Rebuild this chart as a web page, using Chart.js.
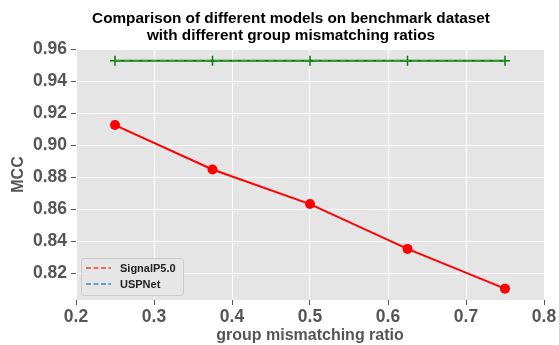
<!DOCTYPE html>
<html><head><meta charset="utf-8">
<script src="https://cdn.jsdelivr.net/npm/chart.js@4.4.1/dist/chart.umd.min.js"></script>
<style>html,body{margin:0;padding:0;background:#fff}#wrap{width:559px;height:345px}</style>
</head><body><div id="wrap"><canvas id="c" width="559" height="345"></canvas></div>
<script>
const ratios = [0.25, 0.375, 0.5, 0.625, 0.75];
const signalpMCC = [0.9125, 0.8848, 0.8632, 0.8352, 0.8104];
const uspnetMCC = [0.9527, 0.9527, 0.9527, 0.9527, 0.9527];
const seriesNames = ['SignalP5.0', 'USPNet'];
const legendColors = ['#E24A33', '#348ABD'];
const titleLines = ['Comparison of different models on benchmark dataset', 'with different group mismatching ratios'];
const xTitle = 'group mismatching ratio';
const yTitle = 'MCC';
const yTickValues = [0.82, 0.84, 0.86, 0.88, 0.90, 0.92, 0.94, 0.96];

const pts = arr => ratios.map((r, i) => ({x: r, y: arr[i]}));

const bgPlugin = {
  id: 'bg',
  beforeDraw(chart) {
    const {ctx, chartArea: a} = chart;
    ctx.save();
    ctx.fillStyle = '#E5E5E5';
    ctx.fillRect(a.left, a.top, a.right - a.left, a.bottom - a.top);
    ctx.restore();
  }
};

const titlePlugin = {
  id: 'offsetTitle',
  afterDraw(chart) {
    const {ctx} = chart;
    ctx.save();
    ctx.font = 'bold 15.3px "Liberation Sans"';
    ctx.fillStyle = '#000';
    ctx.textAlign = 'center';
    ctx.textBaseline = 'middle';
    titleLines.forEach((t, i) => ctx.fillText(t, 291, 19 + i * 16.8));
    ctx.restore();
  }
};

const legendPlugin = {
  id: 'customLegend',
  afterDraw(chart) {
    const {ctx, chartArea: a} = chart;
    const x0 = a.left + 5, y0 = a.bottom - 42, w = 102, h = 37;
    ctx.save();
    ctx.fillStyle = 'rgba(229,229,229,0.9)';
    ctx.strokeStyle = '#CCCCCC';
    ctx.lineWidth = 1;
    ctx.beginPath();
    ctx.roundRect(x0 + 0.5, y0 + 0.5, w, h, 3);
    ctx.fill(); ctx.stroke();
    ctx.font = 'bold 11px "Liberation Sans"';
    ctx.textBaseline = 'middle';
    seriesNames.forEach((n, i) => {
      const yy = y0 + 10 + i * 16;
      ctx.strokeStyle = legendColors[i];
      ctx.lineWidth = 1.5;
      ctx.setLineDash([5, 2.5]);
      ctx.beginPath(); ctx.moveTo(x0 + 5, yy); ctx.lineTo(x0 + 30, yy); ctx.stroke();
      ctx.setLineDash([]);
      ctx.fillStyle = '#222';
      ctx.fillText(n, x0 + 39, yy + 0.5);
    });
    ctx.restore();
  }
};

const tickFont = {family: '"Liberation Sans"', weight: 'bold', size: 17.5};
const axisTitleFont = {family: '"Liberation Sans"', weight: 'bold', size: 16};

new Chart(document.getElementById('c'), {
  type: 'line',
  data: {
    datasets: [
      {label: seriesNames[0], data: pts(signalpMCC), borderColor: '#FF0000', backgroundColor: '#FF0000',
       borderWidth: 2, pointRadius: 5, pointStyle: 'circle', pointBorderWidth: 0, tension: 0, order: 1},
      {label: seriesNames[1], data: pts(uspnetMCC), borderColor: '#0A7A0A', backgroundColor: '#0A7A0A',
       borderWidth: 2, pointRadius: 5, pointStyle: 'cross', pointBorderWidth: 1.5, tension: 0, order: 3},
      {label: seriesNames[1] + ' (dashed)', data: pts(uspnetMCC), borderColor: '#3FA33F',
       borderWidth: 1, borderDash: [6, 3], pointRadius: 0, tension: 0, order: 2}
    ]
  },
  options: {
    responsive: false,
    animation: false,
    layout: {padding: {left: 0, right: 15, top: 49, bottom: 0}},
    plugins: {
      legend: {display: false},
      tooltip: {enabled: false},
      title: {display: false}
    },
    scales: {
      x: {type: 'linear', min: 0.2, max: 0.8,
        ticks: {stepSize: 0.1, color: '#555', font: tickFont, padding: 2,
          callback: v => Number(v).toFixed(1)},
        grid: {color: '#FFFFFF', lineWidth: 1, drawTicks: true, tickLength: 5, tickColor: '#555'},
        border: {display: false},
        title: {display: true, text: xTitle, color: '#555', font: axisTitleFont, padding: {top: 0, bottom: 0}},
        afterFit: s => { s.height = 45; }
      },
      y: {type: 'linear', min: 0.8033, max: 0.96,
        afterBuildTicks: s => { s.ticks = yTickValues.map(v => ({value: v})); },
        ticks: {color: '#555', font: tickFont, padding: 4,
          callback: v => Number(v).toFixed(2)},
        grid: {color: '#FFFFFF', lineWidth: 1, drawTicks: true, tickLength: 5, tickColor: '#555'},
        border: {display: false},
        title: {display: true, text: yTitle, color: '#555', font: axisTitleFont, padding: {top: 9, bottom: 0}},
        afterFit: s => { s.width = 76; }
      }
    }
  },
  plugins: [bgPlugin, titlePlugin, legendPlugin]
});
</script></body></html>
